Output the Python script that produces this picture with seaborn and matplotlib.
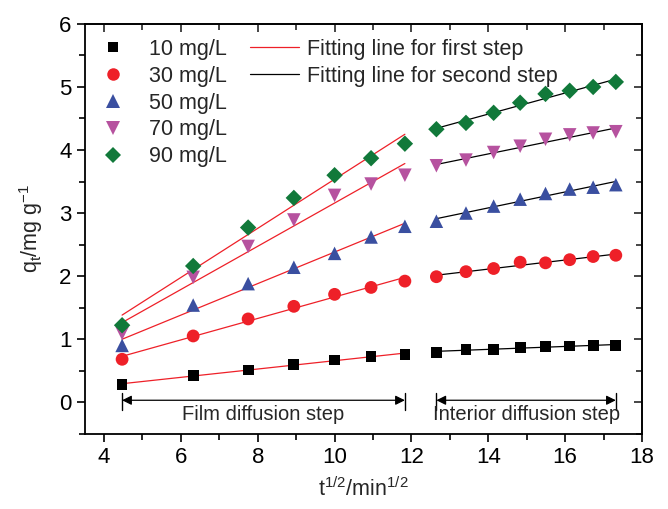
import numpy as np
import pandas as pd
import matplotlib
matplotlib.use("Agg")
import matplotlib.pyplot as plt
import seaborn as sns
from matplotlib.lines import Line2D
from matplotlib.ticker import MultipleLocator

sns.set_theme(style="ticks")
plt.rcParams['font.family'] = ['Liberation Sans', 'DejaVu Sans']
plt.rcParams['mathtext.fontset'] = 'custom'
plt.rcParams['mathtext.rm'] = 'Liberation Sans'
plt.rcParams['mathtext.it'] = 'Liberation Sans'

# time points (t^1/2)
x_step1 = [4.47, 6.32, 7.75, 8.94, 10.00, 10.95, 11.83]
x_step2 = [12.65, 13.42, 14.14, 14.83, 15.49, 16.12, 16.73, 17.32]

concentrations = ["10 mg/L", "30 mg/L", "50 mg/L", "70 mg/L", "90 mg/L"]

q10_s1 = [0.28, 0.42, 0.51, 0.60, 0.67, 0.72, 0.76]
q30_s1 = [0.68, 1.05, 1.32, 1.52, 1.71, 1.82, 1.92]
q50_s1 = [0.90, 1.54, 1.88, 2.14, 2.36, 2.62, 2.79]
q70_s1 = [1.09, 1.98, 2.47, 2.89, 3.28, 3.46, 3.60]
q90_s1 = [1.22, 2.16, 2.77, 3.24, 3.60, 3.87, 4.10]

q10_s2 = [0.79, 0.83, 0.84, 0.87, 0.88, 0.89, 0.90, 0.90]
q30_s2 = [1.99, 2.07, 2.12, 2.22, 2.21, 2.26, 2.31, 2.33]
q50_s2 = [2.87, 3.00, 3.11, 3.22, 3.31, 3.38, 3.41, 3.45]
q70_s2 = [3.75, 3.84, 3.96, 4.06, 4.17, 4.24, 4.27, 4.29]
q90_s2 = [4.33, 4.43, 4.59, 4.75, 4.89, 4.94, 5.00, 5.08]

s1 = [q10_s1, q30_s1, q50_s1, q70_s1, q90_s1]
s2 = [q10_s2, q30_s2, q50_s2, q70_s2, q90_s2]

colors = ["#000000", "#EE2028", "#3A4FA0", "#B6529F", "#11793A"]
markers = ["s", "o", "^", "v", "D"]
sizes = [60, 85, 95, 95, 70]

rows = []
for c, a, b in zip(concentrations, s1, s2):
    for xv, yv in zip(x_step1, a):
        rows.append((c, xv, yv, "first"))
    for xv, yv in zip(x_step2, b):
        rows.append((c, xv, yv, "second"))
df = pd.DataFrame(rows, columns=["conc", "x", "q", "step"])

fig = plt.figure(figsize=(6.68, 5.09), dpi=100)
ax = fig.add_axes([0.127, 0.148, 0.834, 0.805])

# fitting lines
for c in concentrations:
    for step, col in (("first", "#EE2028"), ("second", "#000000")):
        d = df[(df.conc == c) & (df.step == step)]
        k, b0 = np.polyfit(d.x, d.q, 1)
        xs = np.array([d.x.min(), d.x.max()])
        ax.plot(xs, k * xs + b0, color=col, lw=0.9, zorder=2)

for c, col, m, s in zip(concentrations, colors, markers, sizes):
    d = df[df.conc == c]
    sns.scatterplot(data=d, x="x", y="q", ax=ax, color=col, marker=m, s=s,
                    edgecolor="none", linewidth=0, zorder=3, legend=False)

ax.set_xlim(3.5, 18)
ax.set_ylim(-0.5, 6)
ax.xaxis.set_major_locator(MultipleLocator(2))
ax.xaxis.set_minor_locator(MultipleLocator(1))
ax.yaxis.set_major_locator(MultipleLocator(1))
ax.yaxis.set_minor_locator(MultipleLocator(0.5))
ax.tick_params(which='both', direction='out', labelsize=16, width=1.2, colors='black')
ax.tick_params(which='major', length=6)
ax.tick_params(which='minor', length=4)
for sp in ax.spines.values():
    sp.set_visible(True)
    sp.set_linewidth(1.3)
    sp.set_color('black')

secx = ax.secondary_xaxis('top')
secx.xaxis.set_major_locator(MultipleLocator(2))
secx.xaxis.set_minor_locator(MultipleLocator(1))
secx.tick_params(which='both', direction='in', labeltop=False, width=1.2)
secx.tick_params(which='major', length=6)
secx.tick_params(which='minor', length=4)
secy = ax.secondary_yaxis('right')
secy.yaxis.set_major_locator(MultipleLocator(1))
secy.yaxis.set_minor_locator(MultipleLocator(0.5))
secy.tick_params(which='both', direction='in', labelright=False, width=1.2)
secy.tick_params(which='major', length=6)
secy.tick_params(which='minor', length=4)

ax.set_xlabel(r"t$^{1/2}$/min$^{1/2}$", fontsize=15.5, labelpad=7)
ax.set_ylabel(r"q$_\mathrm{t}$/mg g$^{-1}$", fontsize=15.5, labelpad=10)

# step annotations
for (x0, x1, label) in ((x_step1[0], x_step1[-1], "Film diffusion step"),
                        (x_step2[0], x_step2[-1], "Interior diffusion step")):
    ax.annotate("", xy=(x0, 0.03), xytext=(x1, 0.03),
                arrowprops=dict(arrowstyle="<|-|>", color="black", lw=0.9,
                                mutation_scale=14, shrinkA=0, shrinkB=0))
    for xe in (x0, x1):
        ax.plot([xe, xe], [-0.13, 0.15], color="black", lw=1.0)
    ax.text((x0 + x1) / 2, -0.2, label, ha="center", va="center", fontsize=14.5)

# legends
h1 = [Line2D([], [], ls="none", marker=m, color=col, markersize=ms, markeredgewidth=0)
      for m, col, ms in zip(markers, colors, [7, 9, 9.5, 9.5, 8])]
leg1 = ax.legend(h1, concentrations, loc="upper left", bbox_to_anchor=(0.0, 1.0),
                 frameon=False, fontsize=15.5, handletextpad=1.1, labelspacing=0.27,
                 handlelength=1.2, borderaxespad=0.3)
ax.add_artist(leg1)
h2 = [Line2D([], [], color="#EE2028", lw=0.9), Line2D([], [], color="black", lw=0.9)]
ax.legend(h2, ["Fitting line for first step", "Fitting line for second step"],
          loc="upper left", bbox_to_anchor=(0.269, 1.0), frameon=False, fontsize=15.5,
          handlelength=2.3, handletextpad=0.37, labelspacing=0.27, borderaxespad=0.3)

fig.savefig("out.png", dpi=100)
